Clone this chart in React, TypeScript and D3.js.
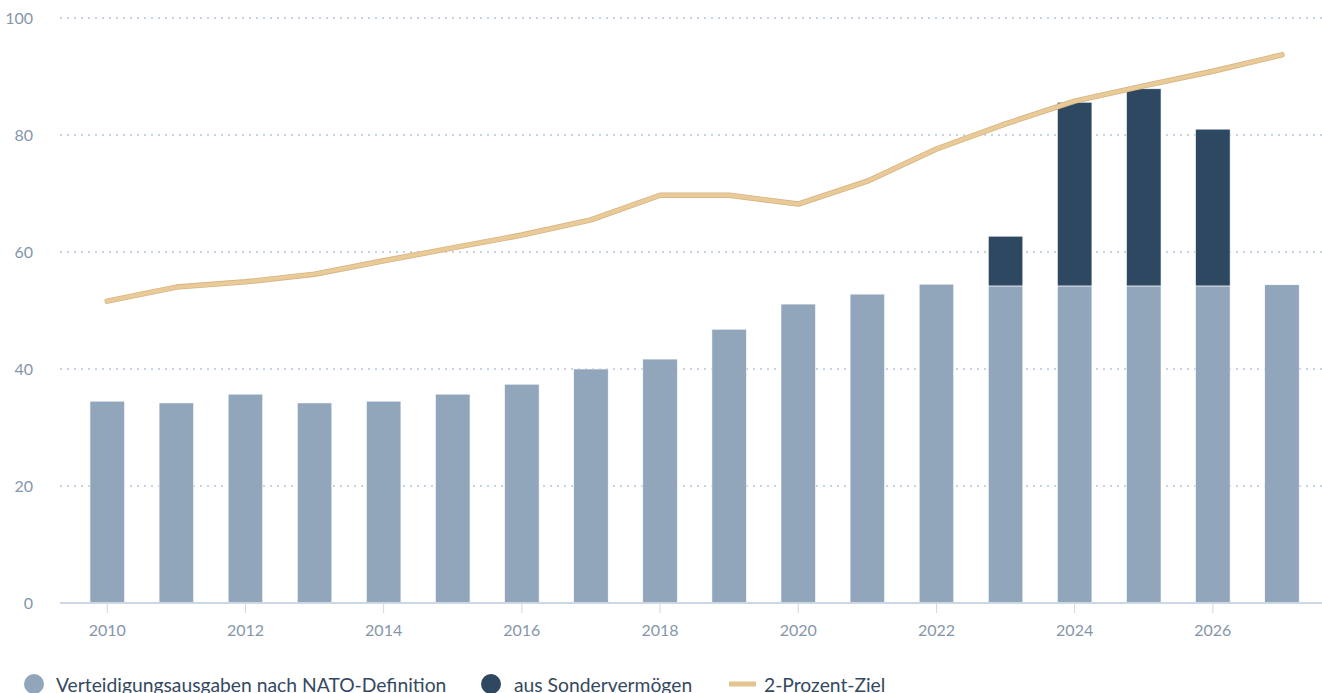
import React from "react";
import * as d3 from "d3";

const years = [2010, 2011, 2012, 2013, 2014, 2015, 2016, 2017, 2018, 2019, 2020, 2021, 2022, 2023, 2024, 2025, 2026, 2027];
const natoSpending = [34.5, 34.2, 35.7, 34.2, 34.5, 35.7, 37.4, 40.0, 41.7, 46.8, 51.1, 52.8, 54.5, 54.2, 54.2, 54.2, 54.2, 54.4];
const specialFund = [0, 0, 0, 0, 0, 0, 0, 0, 0, 0, 0, 0, 0, 8.5, 31.4, 33.7, 26.8, 0];
const twoPercentTarget = [51.6, 54.0, 54.9, 56.2, 58.5, 60.7, 62.9, 65.5, 69.7, 69.7, 68.2, 72.1, 77.6, 81.9, 85.8, 88.4, 90.9, 93.7];
const yTicks = [0, 20, 40, 60, 80, 100];
const xTickYears = [2010, 2012, 2014, 2016, 2018, 2020, 2022, 2024, 2026];
const legendLabels = ["Verteidigungsausgaben nach NATO-Definition", "aus Sondervermögen", "2-Prozent-Ziel"];

const W = 1322;
const H = 693;
const FONT = "'Source Sans Pro', Lato, 'Noto Sans', sans-serif";

export default function App() {
  const x = d3.scaleBand<number>().domain(years).range([72.7, 1316.5]).paddingInner(0.5).paddingOuter(0.25);
  const y = d3.scaleLinear().domain([0, 100]).range([603, 18]);
  const line = d3
    .line<number>()
    .x((_, i) => (x(years[i]) as number) + x.bandwidth() / 2)
    .y((d) => y(d));
  const path = line(twoPercentTarget) || "";

  return (
    <svg width={W} height={H} style={{ position: "absolute", left: 0, top: 0, display: "block", fontFamily: FONT }}>
      {yTicks.map((t) => (
        <g key={t}>
          {t > 0 && (
            <line x1={60} x2={W} y1={y(t)} y2={y(t)} stroke="#c7d3e2" strokeWidth={2} strokeDasharray="2 5" />
          )}
          <text x={33} y={y(t)} dy="0.35em" textAnchor="end" fontSize={16} fill="#8596ab">
            {t}
          </text>
        </g>
      ))}
      {years.map((yr, i) => {
        const bx = x(yr) as number;
        const bw = x.bandwidth();
        return (
          <g key={yr}>
            <rect x={bx} y={y(natoSpending[i])} width={bw} height={y(0) - y(natoSpending[i])} fill="#91a6bb" stroke="#ffffff" strokeWidth={0.6} />
            {specialFund[i] > 0 && (
              <rect
                x={bx}
                y={y(natoSpending[i] + specialFund[i])}
                width={bw}
                height={y(natoSpending[i]) - y(natoSpending[i] + specialFund[i])}
                fill="#2e4862"
                stroke="#ffffff"
                strokeWidth={0.6}
              />
            )}
          </g>
        );
      })}
      <line x1={60} x2={W} y1={y(0)} y2={y(0)} stroke="#ccd7e5" strokeWidth={2} />
      {xTickYears.map((yr) => {
        const cx = (x(yr) as number) + x.bandwidth() / 2;
        return (
          <g key={yr}>
            <line x1={cx} x2={cx} y1={y(0)} y2={y(0) + 10} stroke="#ccd7e5" strokeWidth={1} />
            <text x={cx} y={630} dy="0.35em" textAnchor="middle" fontSize={16} fill="#8596ab">
              {yr}
            </text>
          </g>
        );
      })}
      <path d={path} fill="none" stroke="#d4b586" strokeWidth={5.5} strokeLinejoin="round" strokeLinecap="round" />
      <path d={path} fill="none" stroke="#eacb97" strokeWidth={3.8} strokeLinejoin="round" strokeLinecap="round" />
      <g fontSize={19.3} fill="#34495f">
        <circle cx={34} cy={684} r={10} fill="#91a6bb" />
        <text x={56} y={685} dy="0.35em">{legendLabels[0]}</text>
        <circle cx={491} cy={684} r={10} fill="#2e4862" />
        <text x={514} y={685} dy="0.35em">{legendLabels[1]}</text>
        <line x1={729} x2={756} y1={684} y2={684} stroke="#e3c38f" strokeWidth={5} />
        <text x={764} y={685} dy="0.35em">{legendLabels[2]}</text>
      </g>
    </svg>
  );
}
